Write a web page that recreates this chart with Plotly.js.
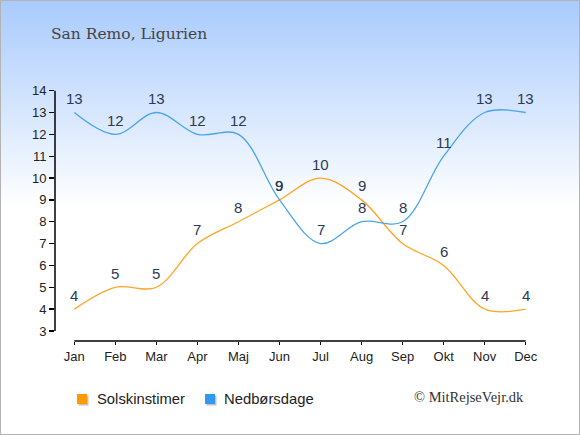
<!DOCTYPE html>
<html><head><meta charset="utf-8">
<script src="https://cdn.plot.ly/plotly-3.0.1.min.js"></script>
<style>
html,body{margin:0;padding:0;}
body{width:580px;height:435px;overflow:hidden;}
#wrap{position:relative;width:578px;height:433px;border:1px solid #b3b3b3;
background:linear-gradient(to bottom,#a9cbfd 0px,#d6e6fe 110px,#ffffff 205px,#ffffff 100%);}
#chart{position:absolute;left:-1px;top:-1px;width:580px;height:435px;}
</style></head>
<body><div id="wrap"><div id="chart"></div></div>
<script>
const months = ["Jan","Feb","Mar","Apr","Maj","Jun","Jul","Aug","Sep","Okt","Nov","Dec"];
const sunHours = [4,5,5,7,8,9,10,9,7,6,4,4];
const rainDays = [13,12,13,12,12,9,7,8,8,11,13,13];
const yTicks = [3,4,5,6,7,8,9,10,11,12,13,14];
const seriesNames = ["Solskinstimer","Nedbørsdage"];
const seriesColors = ["#ffa526","#4ba4ee"];
const legendColors = ["#ff9900","#3399ee"];

const idx = months.map((m,i)=>i);
const labelFont = {family:"Liberation Sans, Arial, sans-serif", size:15, color:"#2b3a55"};

const traces = [
  {x:idx, y:sunHours, mode:"lines", name:seriesNames[0],
   line:{color:seriesColors[0], width:1.3, shape:"spline", smoothing:1}, showlegend:false, hoverinfo:"skip"},
  {x:idx, y:rainDays, mode:"lines", name:seriesNames[1],
   line:{color:seriesColors[1], width:1.3, shape:"spline", smoothing:1}, showlegend:false, hoverinfo:"skip"}
];

const annotations = [];
[sunHours, rainDays].forEach(series => {
  series.forEach((v,i) => {
    annotations.push({x:i, y:v, xref:"x", yref:"y", text:String(v), showarrow:false,
      yshift:14, xanchor:"center", yanchor:"middle", font:labelFont});
  });
});

// legend (drawn in pixel-based paper coords)
const W = 490, H = 251, L = 55, T = 90;
const px = x => (x - L) / W;
const py = y => 1 - (y - T) / H;
const legendItems = [
  {sq:77, tx:94.5},
  {sq:205, tx:221.5}
];
const shapes = [
  {type:"line", xref:"x", yref:"paper", x0:0, x1:11, y0:0, y1:0, line:{color:"#000", width:1.5}},
  {type:"line", xref:"paper", yref:"y", x0:0, x1:0, y0:3, y1:14, line:{color:"#000", width:1.5}}
];
legendItems.forEach((it,k) => {
  shapes.push({type:"rect", xref:"paper", yref:"paper", x0:px(it.sq+1.5), x1:px(it.sq+11.5), y0:py(405.5), y1:py(395.5),
    line:{width:0}, fillcolor:"rgba(120,120,120,0.45)"});
  shapes.push({type:"rect", xref:"paper", yref:"paper", x0:px(it.sq), x1:px(it.sq+10), y0:py(404), y1:py(394),
    line:{width:0}, fillcolor:legendColors[k]});
  annotations.push({text:seriesNames[k], xref:"paper", yref:"paper", x:px(it.tx), xanchor:"left", y:py(399), yanchor:"middle",
    showarrow:false, font:{family:"Liberation Sans, Arial, sans-serif", size:14.8, color:"#222"}});
});
annotations.push({text:"© MitRejseVejr.dk", xref:"paper", yref:"paper", x:px(526), xanchor:"right", y:py(397), yanchor:"middle",
  showarrow:false, font:{family:"Liberation Serif, Times New Roman, serif", size:14.5, color:"#333"}});

const layout = {
  width:580, height:435,
  paper_bgcolor:"rgba(0,0,0,0)", plot_bgcolor:"rgba(0,0,0,0)",
  margin:{l:L, r:35, t:T, b:94, pad:0},
  font:{family:"Liberation Sans, Arial, sans-serif", size:13, color:"#222"},
  title:{text:"San Remo, Ligurien", font:{family:"DejaVu Serif, serif", size:15.5, color:"#444"},
         xref:"container", yref:"container", x:51/580, xanchor:"left", y:1-34/435, yanchor:"middle"},
  xaxis:{range:[-0.47,11.47], tickvals:idx, ticktext:months, showgrid:false, zeroline:false, showline:false,
         ticks:"outside", ticklen:3, tickwidth:1.3, tickcolor:"#000", tickfont:{size:13, color:"#222"}, fixedrange:true},
  yaxis:{range:[2.54,14.03], tickvals:yTicks, showgrid:false, zeroline:false, showline:false,
         ticks:"outside", ticklen:5, tickwidth:1.3, tickcolor:"#000", tickfont:{size:13, color:"#222"}, fixedrange:true},
  shapes:shapes,
  showlegend:false,
  annotations:annotations
};
Plotly.newPlot("chart", traces, layout, {displayModeBar:false, staticPlot:true});
</script></body></html>
